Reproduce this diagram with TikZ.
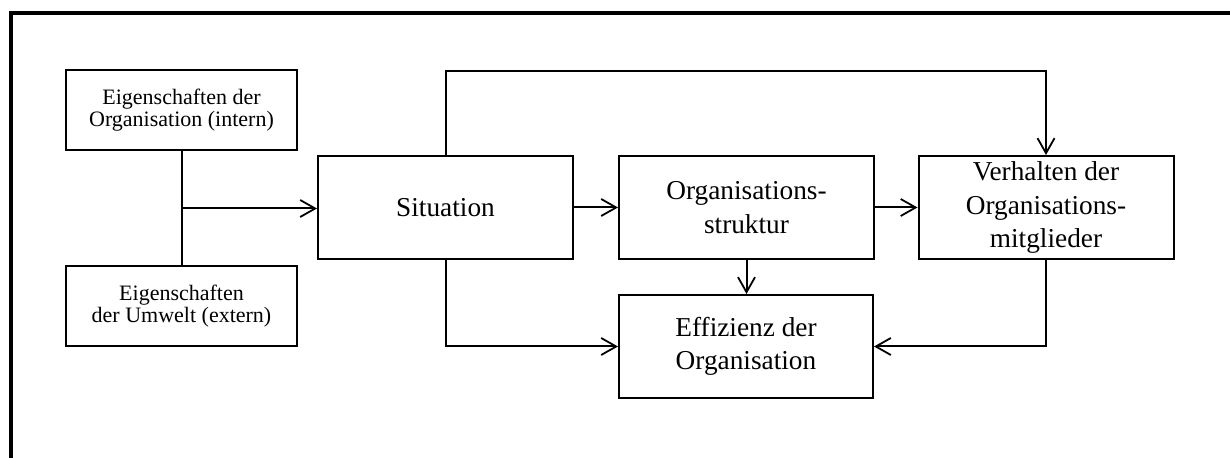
\documentclass[tikz,border=0pt]{standalone}
\usepackage{fontspec}
\setmainfont{Liberation Serif}
\usetikzlibrary{arrows.meta}
\begin{document}
\begin{tikzpicture}[x=0.5pt,y=-0.5pt,
  box/.style={draw, line width=1pt, align=center, inner sep=0pt},
  smallbox/.style={box, minimum width=115.5pt, minimum height=40pt,
    font=\fontsize{11}{10.75}\selectfont},
  bigbox/.style={box, minimum width=127.5pt, minimum height=51.5pt,
    font=\fontsize{13.65}{16.75}\selectfont},
  link/.style={line width=1pt},
  flow/.style={link, -{Straight Barb[length=7.5pt,width=8.5pt,line width=0.9pt]}}]
\useasboundingbox (0,0) rectangle (1230,458);

% frame
\draw[line width=2pt, line join=miter] (10.5,458) -- (10.5,13) -- (1230,13);

% boxes
\node[smallbox] (intern) at (181.5,110) {Eigenschaften der\\Organisation (intern)};
\node[smallbox] (extern) at (181.5,306) {Eigenschaften\\der Umwelt (extern)};
\node[bigbox] (sit) at (445.5,207.5) {Situation};
\node[bigbox] (struk) at (746.5,207.5) {Organisations-\\struktur};
\node[bigbox] (verh) at (1046,207.5) {Verhalten der\\Organisations-\\mitglieder};
\node[bigbox, minimum width=127pt] (eff) at (746,346.5) {Effizienz der\\Organisation};

% helper coordinates for routed connectors
\coordinate (join) at (181.5,208.5);
\coordinate (over) at (0,71);

% connectors
\draw[link] (intern) -- (extern);
\draw[flow] (join) -- (join -| sit.west);
\draw[flow] (sit) -- (struk);
\draw[flow] (struk) -- (verh);
\draw[flow] (struk.south) -- (struk.south |- eff.north);
\draw[flow] (sit.north) -- (sit.north |- over) -| (verh.north);
\draw[flow] (sit.south) |- (eff.west);
\draw[flow] (verh.south) |- (eff.east);
\end{tikzpicture}
\end{document}
